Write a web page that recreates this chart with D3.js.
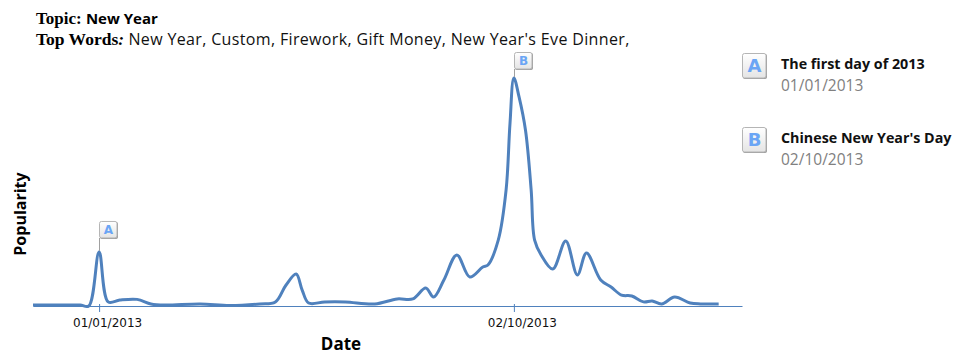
<!DOCTYPE html>
<html>
<head>
<meta charset="utf-8">
<script src="https://cdn.jsdelivr.net/npm/d3@7"></script>
<style>
  body { margin: 0; background: #fff; }
  svg { display: block; }
</style>
</head>
<body>
<div id="chart"></div>
<script>
// Data (popularity is relative, peak = 100)
var dates = [
  "2012-12-25T15:00", "2012-12-28T06:00", "2012-12-30T04:00", "2012-12-31T00:00",
  "2013-01-01T00:00", "2013-01-01T21:00", "2013-01-03T00:00", "2013-01-04T16:00",
  "2013-01-06T00:00", "2013-01-07T08:00", "2013-01-10T18:00", "2013-01-13T14:00",
  "2013-01-16T12:00", "2013-01-18T00:00", "2013-01-19T00:00", "2013-01-20T00:00",
  "2013-01-20T14:00", "2013-01-21T05:00", "2013-01-22T18:00", "2013-01-24T18:00",
  "2013-01-27T14:00", "2013-01-29T18:00", "2013-01-31T06:00", "2013-02-01T12:00",
  "2013-02-02T06:00", "2013-02-03T06:00", "2013-02-04T12:00", "2013-02-05T18:00",
  "2013-02-07T00:00", "2013-02-07T12:00", "2013-02-08T12:00", "2013-02-09T06:00",
  "2013-02-09T15:00", "2013-02-10T00:00", "2013-02-10T12:00", "2013-02-11T03:00",
  "2013-02-11T16:00", "2013-02-12T00:00", "2013-02-12T15:00", "2013-02-13T18:00",
  "2013-02-15T00:00", "2013-02-16T03:00", "2013-02-17T00:00", "2013-02-18T09:00",
  "2013-02-19T09:00", "2013-02-20T09:00", "2013-02-21T09:00", "2013-02-22T12:00",
  "2013-02-23T08:00", "2013-02-24T06:00", "2013-02-25T12:00", "2013-02-27T00:00",
  "2013-02-28T00:00", "2013-03-01T18:00"
];
var popularity = [
  0.4, 0.4, 0.4, 0,
  23.7, 1.8, 2.6, 2.9,
  0.9, 0.4, 0.9, 0.2,
  0.9, 1.8, 9, 14,
  7, 1.3, 1.8, 1.8,
  0.9, 3.1, 3.1, 7.9,
  3.9, 11.4, 22.4, 12.7,
  17.1, 18, 29, 50.9,
  80, 100, 91.7, 77,
  50.9, 28.9, 22.4, 16.2,
  28.5, 13.6, 23.2, 11.4,
  8.3, 4.8, 4.4, 1.8,
  2.2, 0.9, 3.9, 1.3,
  0.9, 0.9
];
var domainDates = ["2012-12-25T15:00", "2013-03-04T00:00"];
var tickDates = ["2013-01-01T00:00", "2013-02-10T00:00"];

var eventLetters = ["A", "B"];
var eventDates = ["2013-01-01T00:00", "2013-02-10T00:00"];
var eventTitles = ["The first day of 2013", "Chinese New Year's Day"];
var eventLabels = ["01/01/2013", "02/10/2013"];

var topic = "New Year";
var topWords = "New Year, Custom, Firework, Gift Money, New Year's Eve Dinner,";

var width = 966, height = 363;
var parse = d3.utcParse("%Y-%m-%dT%H:%M");
var data = dates.map((d, i) => ({date: parse(d), value: popularity[i]}));

var svg = d3.select("#chart").append("svg")
    .attr("width", width)
    .attr("height", height);

var defs = svg.append("defs");
var grad = defs.append("linearGradient")
    .attr("id", "flagfill")
    .attr("x1", 0).attr("y1", 0).attr("x2", 0).attr("y2", 1);
grad.append("stop").attr("offset", "0%").attr("stop-color", "#ffffff");
grad.append("stop").attr("offset", "100%").attr("stop-color", "#e4e4e4");

var x = d3.scaleUtc()
    .domain(domainDates.map(parse))
    .range([33, 742]);
var y = d3.scaleLinear()
    .domain([0, 100])
    .range([306, 78]);

// header
var sans = "'Open Sans', 'DejaVu Sans', sans-serif";
var serif = "'Liberation Serif', 'DejaVu Serif', serif";

var t1 = svg.append("text").attr("x", 36).attr("y", 24).style("font-size", "15px");
t1.append("tspan").text("Topic: ")
    .style("font-family", serif).style("font-weight", "bold").style("font-size", "17px");
t1.append("tspan").text(topic)
    .style("font-family", sans).style("font-weight", "bold");

var t2 = svg.append("text").attr("x", 36).attr("y", 45).style("font-size", "16px");
t2.append("tspan").text("Top Words")
    .style("font-family", serif).style("font-weight", "bold").style("font-size", "17.5px");
t2.append("tspan").text(": ")
    .style("font-family", serif).style("font-weight", "bold").style("font-style", "italic")
    .style("font-size", "17.5px");
t2.append("tspan").text(topWords)
    .style("font-family", sans).style("fill", "#111").style("letter-spacing", "0.35px");

// axis
var xAxis = d3.axisBottom(x)
    .tickValues(tickDates.map(parse))
    .tickFormat(d3.utcFormat("%m/%d/%Y"))
    .tickSize(6)
    .tickSizeOuter(0)
    .tickPadding(6);

var gx = svg.append("g")
    .attr("transform", "translate(0," + y(0) + ")")
    .call(xAxis);
gx.select(".domain").attr("stroke", "#4f81bd");
gx.selectAll(".tick line").attr("stroke", "#4f81bd").attr("y1", -2);
gx.selectAll(".tick text")
    .attr("x", 8)
    .style("font-family", "'DejaVu Sans', sans-serif")
    .style("font-size", "12px")
    .attr("fill", "#111");

svg.append("text")
    .attr("x", 341).attr("y", 350)
    .attr("text-anchor", "middle")
    .style("font-family", sans).style("font-weight", "bold").style("font-size", "17px")
    .text("Date");

svg.append("text")
    .attr("transform", "translate(26,214) rotate(-90)")
    .attr("text-anchor", "middle")
    .style("font-family", sans).style("font-weight", "bold").style("font-size", "16px")
    .text("Popularity");

// line
var line = d3.line()
    .x(d => x(d.date))
    .y(d => y(d.value))
    .curve(d3.curveCatmullRom.alpha(0.5));

svg.append("path")
    .datum(data)
    .attr("fill", "none")
    .attr("stroke", "#4f81bd")
    .attr("stroke-width", 3)
    .attr("stroke-linejoin", "round")
    .attr("d", line);

// flag helper
function flag(g, w, h, letter, fs) {
    g.append("rect")
        .attr("x", 1).attr("y", 1).attr("width", w).attr("height", h)
        .attr("rx", 2).attr("fill", "#9a9a9a");
    g.append("rect")
        .attr("x", 0.5).attr("y", 0.5).attr("width", w - 0.5).attr("height", h - 0.5)
        .attr("rx", 2).attr("fill", "url(#flagfill)").attr("stroke", "#b5b5b5");
    g.append("text")
        .attr("x", w / 2 + 0.5).attr("y", h / 2 + 0.5)
        .attr("dy", "0.36em")
        .attr("text-anchor", "middle")
        .style("font-family", "'DejaVu Sans', sans-serif")
        .style("font-weight", "bold")
        .style("font-size", fs + "px")
        .attr("fill", "#6aa5f5")
        .text(letter);
}

// flags on the line
eventDates.forEach(function(ds, i) {
    var d = parse(ds);
    var pt = data.find(p => +p.date === +d);
    var px = Math.round(x(d)) + 0.5;
    var py = y(pt.value);
    var top = Math.max(py - 31, 52);
    var fh = 17, fw = 18;
    svg.append("line")
        .attr("x1", px).attr("x2", px)
        .attr("y1", top + fh).attr("y2", py - 1)
        .attr("stroke", "#a0a0a0").attr("stroke-width", 1);
    var g = svg.append("g").attr("transform", "translate(" + (px - 0.5) + "," + top + ")");
    flag(g, fw, fh, eventLetters[i], 12);
});

// legend
eventLetters.forEach(function(letter, i) {
    var ly = 53 + i * 74;
    var g = svg.append("g").attr("transform", "translate(742," + ly + ")");
    flag(g, 24, 25, letter, 18);
    svg.append("text")
        .attr("x", 781).attr("y", ly + 15.5)
        .style("font-family", sans).style("font-weight", "bold").style("font-size", "14.3px")
        .attr("fill", "#111")
        .text(eventTitles[i]);
    svg.append("text")
        .attr("x", 781).attr("y", ly + 38)
        .style("font-family", sans).style("font-size", "15.5px")
        .attr("fill", "#808080")
        .text(eventLabels[i]);
});
</script>
</body>
</html>
